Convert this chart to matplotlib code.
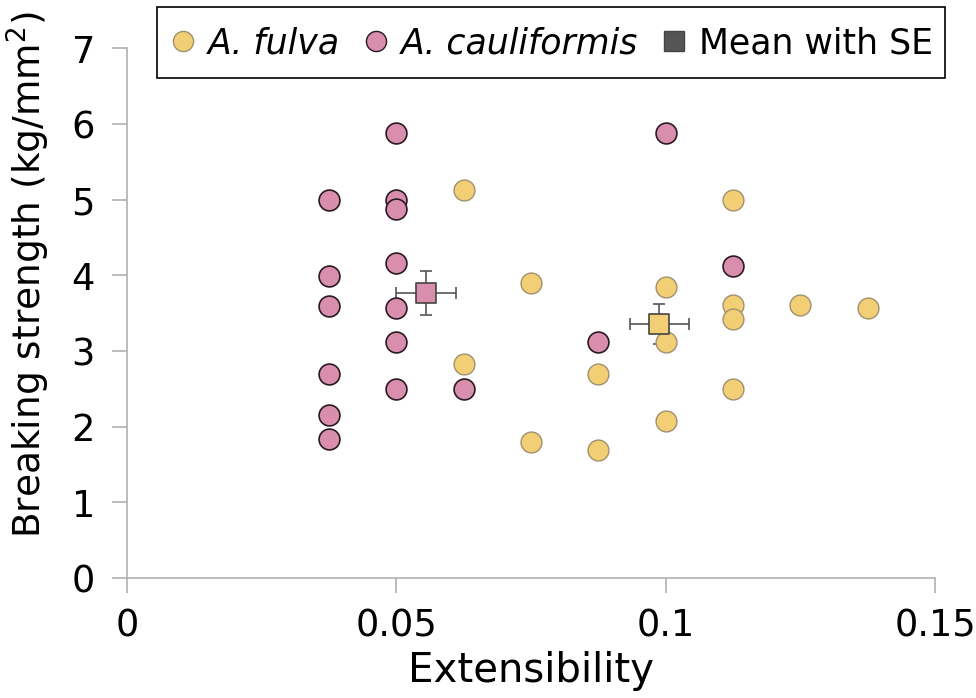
import matplotlib
matplotlib.use("Agg")
import matplotlib.pyplot as plt
from matplotlib.lines import Line2D
from matplotlib.patches import Rectangle

# A. fulva
fulva_x = [0.0625, 0.0625, 0.075, 0.075, 0.0875, 0.0875, 0.1, 0.1, 0.1,
           0.1125, 0.1125, 0.1125, 0.1125, 0.125, 0.1375]
fulva_y = [5.12, 2.83, 3.90, 1.80, 2.69, 1.69, 3.84, 3.12, 2.08,
           5.00, 3.60, 3.42, 2.50, 3.60, 3.57]

# A. cauliformis
caul_x = [0.0375, 0.0375, 0.0375, 0.0375, 0.0375, 0.0375,
          0.05, 0.05, 0.05, 0.05, 0.05, 0.05, 0.05,
          0.0625, 0.0875, 0.1, 0.1125]
caul_y = [5.00, 3.99, 3.59, 2.69, 2.15, 1.84,
          5.88, 5.00, 4.87, 4.16, 3.57, 3.12, 2.50,
          2.50, 3.12, 5.88, 4.12]

# Means with SE
mean_x = [0.0555, 0.0988]
mean_y = [3.76, 3.36]
se_x = [0.0056, 0.0055]
se_y = [0.29, 0.265]

yellow = "#F2CE74"
pink = "#D98EAE"
mean_colors = [pink, yellow]

xticks = [0, 0.05, 0.1, 0.15]
xticklabels = ["0", "0.05", "0.1", "0.15"]
yticks = [0, 1, 2, 3, 4, 5, 6, 7]

plt.rcParams['font.family'] = ['DejaVu Sans']

fig = plt.figure(figsize=(9.76, 6.98), dpi=100)
ax = fig.add_axes([0.130, 0.172, 0.828, 0.759])

ax.errorbar(mean_x, mean_y, xerr=se_x, yerr=se_y, fmt='none',
            ecolor="#555555", elinewidth=1.2, capsize=4, capthick=1.2, zorder=1)

ax.scatter(caul_x, caul_y, s=225, c=pink, edgecolors="#2a1a22",
           linewidths=1.2, zorder=3)
ax.scatter(fulva_x, fulva_y, s=225, c=yellow, edgecolors="#a09070",
           linewidths=1.0, zorder=3)

for mx, my, mc in zip(mean_x, mean_y, mean_colors):
    ax.scatter([mx], [my], s=220, marker='s', c=mc, edgecolors="#444444",
               linewidths=1.2, zorder=4)

ax.set_xlim(0, 0.15)
ax.set_ylim(0, 7)
ax.set_xticks(xticks)
ax.set_xticklabels(xticklabels)
ax.set_yticks(yticks)

for s in ['top', 'right']:
    ax.spines[s].set_visible(False)
for s in ['left', 'bottom']:
    ax.spines[s].set_color("#b0b0b0")
    ax.spines[s].set_linewidth(1.2)
ax.tick_params(axis='both', direction='out', length=11, width=1.2,
               color="#b0b0b0", labelsize=26.5)
ax.tick_params(axis='x', pad=10)
ax.tick_params(axis='y', pad=12)

ax.set_xlabel("Extensibility", fontsize=29, labelpad=5)
ax.set_ylabel("Breaking strength (kg/mm$^2$)", fontsize=27)
ax.yaxis.set_label_coords(-0.093, 0.572)

# legend frame
fig.patches.append(Rectangle((157 / 976, 1 - 78 / 698), 788 / 976, 71 / 698,
                             transform=fig.transFigure, facecolor="white",
                             edgecolor="black", linewidth=1.2, zorder=0))

handles = [
    Line2D([], [], marker='o', linestyle='none', markersize=14.5,
           markerfacecolor=yellow, markeredgecolor="#a09070"),
    Line2D([], [], marker='o', linestyle='none', markersize=14.5,
           markerfacecolor=pink, markeredgecolor="#2a1a22"),
    Line2D([], [], marker='s', linestyle='none', markersize=14,
           markerfacecolor="#555555", markeredgecolor="#444444"),
]
labels = ["A. fulva", "A. cauliformis", "Mean with SE"]
leg = fig.legend(handles, labels, loc='center', bbox_to_anchor=(0.5646, 1 - 43 / 698),
                 ncol=3, fontsize=25, frameon=False,
                 handletextpad=0.3, columnspacing=0.65,
                 borderpad=0.0, borderaxespad=0.0, handlelength=0.8)
for t in leg.get_texts()[:2]:
    t.set_fontstyle('italic')

fig.savefig("out.png", dpi=100)
